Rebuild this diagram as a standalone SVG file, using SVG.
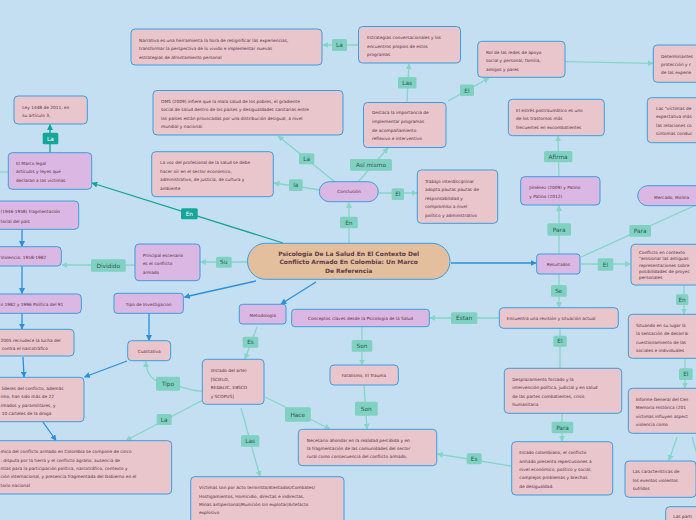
<svg xmlns="http://www.w3.org/2000/svg" width="696" height="520" viewBox="0 0 696 520">
<style>
.pk{fill:#e8c6cc;stroke:#3d9de0;stroke-width:1}
.pu{fill:#dbb8e3;stroke:#3d9de0;stroke-width:1}
.ct{fill:#e3bf9d;stroke:#3d9de0;stroke-width:1}
.t{font-family:"DejaVu Sans",sans-serif;font-size:4.3px;fill:#5c2b3f}
.tc{font-family:"DejaVu Sans",sans-serif;font-size:4.3px;fill:#5c2b3f;text-anchor:middle}
.tt{font-family:"DejaVu Sans",sans-serif;font-size:6px;font-weight:bold;fill:#5e3b47;text-anchor:middle}
.lb{fill:#80d1c1}
.ld{fill:#14a699}
.lt{font-family:"DejaVu Sans",sans-serif;font-size:5.8px;fill:#2e5a56;text-anchor:middle}
.ltw{font-family:"DejaVu Sans",sans-serif;font-size:5.8px;fill:#ffffff;text-anchor:middle}
.cl{stroke:#84d6c6;stroke-width:1.3;fill:none}
.cb{stroke:#2b8fdb;stroke-width:1.3;fill:none}
.cd{stroke:#14a396;stroke-width:1.3;fill:none}
</style>
<defs>
<marker id="al" viewBox="0 0 10 10" refX="9" refY="5" markerWidth="6" markerHeight="6" markerUnits="userSpaceOnUse" orient="auto"><path d="M0,0 L10,5 L0,10 z" fill="#84d6c6"/></marker>
<marker id="ab" viewBox="0 0 10 10" refX="9" refY="5" markerWidth="6" markerHeight="6" markerUnits="userSpaceOnUse" orient="auto"><path d="M0,0 L10,5 L0,10 z" fill="#2b8fdb"/></marker>
<marker id="ad" viewBox="0 0 10 10" refX="9" refY="5" markerWidth="6" markerHeight="6" markerUnits="userSpaceOnUse" orient="auto"><path d="M0,0 L10,5 L0,10 z" fill="#14a396"/></marker>
</defs>
<rect x="0" y="0" width="696" height="520" fill="#c4dff1"/>

<g id="connectors">
<line class="cl" x1="359" y1="45" x2="323" y2="45" marker-end="url(#al)"/>
<line class="cl" x1="407" y1="102" x2="409" y2="64" marker-end="url(#al)"/>
<line class="cl" x1="448" y1="101" x2="489" y2="78" marker-end="url(#al)"/>
<line class="cl" x1="565" y1="61.7" x2="653" y2="63.3" marker-end="url(#al)"/>
<line class="cl" x1="335" y1="182" x2="278" y2="136" marker-end="url(#al)"/>
<line class="cl" x1="320" y1="190" x2="274" y2="183" marker-end="url(#al)"/>
<line class="cl" x1="358" y1="182" x2="388" y2="148" marker-end="url(#al)"/>
<line class="cl" x1="379" y1="193" x2="417" y2="193" marker-end="url(#al)"/>
<line class="cl" x1="349" y1="243" x2="349" y2="202.5" marker-end="url(#al)"/>
<line class="cl" x1="559" y1="254" x2="559" y2="205.5" marker-end="url(#al)"/>
<line class="cl" x1="559" y1="177" x2="558" y2="136" marker-end="url(#al)"/>
<line class="cl" x1="581" y1="257" x2="696" y2="205"/>
<line class="cl" x1="581" y1="264" x2="630.5" y2="264" marker-end="url(#al)"/>
<line class="cl" x1="684" y1="285" x2="684" y2="314" marker-end="url(#al)"/>
<line class="cl" x1="685" y1="358" x2="685" y2="388" marker-end="url(#al)"/>
<line class="cl" x1="677" y1="437" x2="669" y2="460.5" marker-end="url(#al)"/>
<line class="cl" x1="692" y1="437" x2="700" y2="465"/>
<line class="cl" x1="559" y1="274" x2="559" y2="307.5" marker-end="url(#al)"/>
<line class="cl" x1="560" y1="328" x2="560" y2="368"/>
<line class="cl" x1="562" y1="413" x2="562" y2="441.5" marker-end="url(#al)"/>
<line class="cl" x1="511" y1="466" x2="437.5" y2="454" marker-end="url(#al)"/>
<line class="cl" x1="499" y1="318" x2="430" y2="318" marker-end="url(#al)"/>
<line class="cl" x1="362" y1="327" x2="362" y2="365" marker-end="url(#al)"/>
<line class="cl" x1="364" y1="385" x2="367" y2="429" marker-end="url(#al)"/>
<line class="cl" x1="265" y1="397" x2="330" y2="429" marker-end="url(#al)"/>
<line class="cl" x1="257" y1="327" x2="245" y2="359" marker-end="url(#al)"/>
<line class="cl" x1="241" y1="408" x2="260" y2="476.5" marker-end="url(#al)"/>
<path class="cl" d="M203,391 C190,392 180,385 168,384 C152,383 146,373 146,361.5" marker-end="url(#al)"/>
<line class="cl" x1="203" y1="400" x2="126" y2="440.5" marker-end="url(#al)"/>
<line class="cl" x1="248" y1="262" x2="200.5" y2="262" marker-end="url(#al)"/>
<line class="cl" x1="135" y1="265" x2="62" y2="265" marker-end="url(#al)"/>
<line class="cl" x1="0" y1="172" x2="8" y2="172"/>
<line class="cd" x1="50" y1="153" x2="50" y2="124.5" marker-end="url(#ad)"/>
<line class="cd" x1="283" y1="243" x2="92" y2="183" marker-end="url(#ad)"/>
<line class="cb" x1="256" y1="281" x2="184.5" y2="297" marker-end="url(#ab)"/>
<line class="cb" x1="316" y1="282" x2="281" y2="304" marker-end="url(#ab)"/>
<line class="cb" x1="451" y1="263" x2="536" y2="263" marker-end="url(#ab)"/>
<line class="cb" x1="149" y1="313" x2="149" y2="340.5" marker-end="url(#ab)"/>
<line class="cb" x1="127" y1="361" x2="84.5" y2="377" marker-end="url(#ab)"/>
<line class="cb" x1="22" y1="229" x2="22" y2="246.5" marker-end="url(#ab)"/>
<line class="cb" x1="22" y1="266" x2="22" y2="293.5" marker-end="url(#ab)"/>
<line class="cb" x1="22" y1="313" x2="22" y2="329" marker-end="url(#ab)"/>
<line class="cb" x1="23" y1="357" x2="24" y2="377" marker-end="url(#ab)"/>
<line class="cb" x1="43" y1="422" x2="56" y2="440.5" marker-end="url(#ab)"/>
</g>

<g id="labels">
<rect class="lb" x="332" y="39" width="15" height="12" rx="1.5"/><text class="lt" x="339.5" y="47.2">La</text>
<rect class="lb" x="398" y="77" width="18.5" height="11.5" rx="1.5"/><text class="lt" x="407.2" y="85">Las</text>
<rect class="lb" x="460" y="84.5" width="14" height="11.5" rx="1.5"/><text class="lt" x="467" y="92.5">El</text>
<rect class="lb" x="299" y="153.3" width="15.3" height="11" rx="1.5"/><text class="lt" x="306.6" y="161">La</text>
<rect class="lb" x="289" y="179.3" width="13.7" height="11.7" rx="1.5"/><text class="lt" x="295.8" y="187.2">la</text>
<rect class="lb" x="350" y="159" width="42" height="11.7" rx="1.5"/><text class="lt" x="371" y="167">Así mismo</text>
<rect class="lb" x="391.7" y="188.3" width="12.3" height="11.7" rx="1.5"/><text class="lt" x="397.8" y="196.2">El</text>
<rect class="lb" x="340" y="216.7" width="17.7" height="11.6" rx="1.5"/><text class="lt" x="348.8" y="224.6">En</text>
<rect class="ld" x="181" y="208.3" width="16.7" height="11" rx="1.5"/><text class="ltw" x="189.3" y="215.9">En</text>
<rect class="ld" x="42.7" y="132.7" width="15.6" height="11.6" rx="1.5"/><text class="ltw" x="50.5" y="140.6">La</text>
<rect class="lb" x="544" y="151" width="28.3" height="11.3" rx="1.5"/><text class="lt" x="558.1" y="158.8">Afirma</text>
<rect class="lb" x="547.3" y="223.3" width="23.7" height="12.4" rx="1.5"/><text class="lt" x="559.1" y="231.6">Para</text>
<rect class="lb" x="629.3" y="225" width="21.7" height="11.7" rx="1.5"/><text class="lt" x="640.1" y="233">Para</text>
<rect class="lb" x="597.7" y="258.3" width="15.6" height="12.4" rx="1.5"/><text class="lt" x="605.5" y="266.6">El</text>
<rect class="lb" x="676" y="294.3" width="12.3" height="10.7" rx="1.5"/><text class="lt" x="682.1" y="301.8">En</text>
<rect class="lb" x="679" y="368.3" width="13.7" height="11.7" rx="1.5"/><text class="lt" x="685.8" y="376.2">El</text>
<rect class="lb" x="551" y="285" width="15.7" height="11.7" rx="1.5"/><text class="lt" x="558.8" y="292.9">Se</text>
<rect class="lb" x="553.3" y="335.7" width="13.4" height="11" rx="1.5"/><text class="lt" x="560" y="343.3">El</text>
<rect class="lb" x="551.7" y="421.7" width="21.6" height="11.6" rx="1.5"/><text class="lt" x="562.5" y="429.6">Para</text>
<rect class="lb" x="466.7" y="453.3" width="15" height="11" rx="1.5"/><text class="lt" x="474.2" y="460.9">Es</text>
<rect class="lb" x="451" y="312.3" width="26.3" height="11.7" rx="1.5"/><text class="lt" x="464.1" y="320.2">Estan</text>
<rect class="lb" x="351.7" y="340" width="20.6" height="11.7" rx="1.5"/><text class="lt" x="362" y="347.9">Son</text>
<rect class="lb" x="355" y="401.7" width="22.7" height="14" rx="1.5"/><text class="lt" x="366.3" y="410.7">Son</text>
<rect class="lb" x="285" y="407.3" width="25.7" height="14.4" rx="1.5"/><text class="lt" x="297.8" y="416.5">Hace</text>
<rect class="lb" x="242.7" y="336.7" width="15.6" height="11" rx="1.5"/><text class="lt" x="250.5" y="344.3">Es</text>
<rect class="lb" x="241" y="435" width="18.3" height="11.7" rx="1.5"/><text class="lt" x="250.1" y="442.9">Las</text>
<rect class="lb" x="156" y="376.7" width="24" height="14" rx="1.5"/><text class="lt" x="168" y="385.7">Tipo</text>
<rect class="lb" x="156.7" y="414" width="15" height="11" rx="1.5"/><text class="lt" x="164.2" y="421.6">La</text>
<rect class="lb" x="216" y="256.7" width="15.7" height="11" rx="1.5"/><text class="lt" x="223.8" y="264.3">Su</text>
<rect class="lb" x="91" y="259.3" width="34.7" height="12.4" rx="1.5"/><text class="lt" x="108.3" y="267.6">Dividido</text>
</g>

<g id="central"><rect class="ct" x="247.5" y="243.3" width="202.5" height="36" rx="18"/>
<text class="tt" x="348.7" y="256.2">Psicología De La Salud En El Contexto Del</text>
<text class="tt" x="348.7" y="264.2">Conflicto Armado En Colombia: Un Marco</text>
<text class="tt" x="348.7" y="272.5">De Referencia</text></g>

<g id="narrativa"><rect class="pk" x="131" y="29" width="191" height="36" rx="4"/>
<text class="t" x="139" y="41.5">Narrativa es una herramienta la hora de resignificar las experiencias,</text>
<text class="t" x="139" y="50.3">transformar la perspectiva de lo vivido e implementar nuevas</text>
<text class="t" x="139" y="58.8">estrategias de afrontamiento personal</text></g>

<g id="estrategias"><rect class="pk" x="358.5" y="26.5" width="102" height="36.5" rx="4"/>
<text class="t" x="367" y="39">Estrategias conversacionales y los</text>
<text class="t" x="367" y="47.5">encuentros propios de estos</text>
<text class="t" x="367" y="56">programas</text></g>

<g id="destaca"><rect class="pk" x="363.5" y="102.5" width="82.5" height="45" rx="4"/>
<text class="t" x="372" y="114.3">Destaca la importancia de</text>
<text class="t" x="372" y="123">implementar programas</text>
<text class="t" x="372" y="131.6">de acompañamiento</text>
<text class="t" x="372" y="140.3">reflexivo e interventivo</text></g>

<g id="rol"><rect class="pk" x="477.7" y="41.3" width="87.3" height="36" rx="4"/>
<text class="t" x="486" y="54">Rol de las redes de apoyo</text>
<text class="t" x="486" y="62.4">social y personal, familia,</text>
<text class="t" x="486" y="70.7">amigos y pares</text></g>

<g id="determinantes"><rect class="pk" x="653.3" y="45" width="60" height="37.3" rx="4"/>
<text class="t" x="661" y="57.5">Determinantes</text>
<text class="t" x="661" y="65.8">protección y r</text>
<text class="t" x="661" y="74.2">de las experie</text></g>

<g id="oms"><rect class="pk" x="153" y="90.5" width="190" height="44.5" rx="4"/>
<text class="t" x="161" y="102.5">OMS (2009) infiere que la mala salud de los pobres, el gradiente</text>
<text class="t" x="161" y="111.3">social de salud dentro de los países y  desigualdades sanitarias entre</text>
<text class="t" x="161" y="120">los países están provocadas por una distribución desigual, a nivel</text>
<text class="t" x="161" y="128.4">mundial y nacional.</text></g>

<g id="lavoz"><rect class="pk" x="151.7" y="151.7" width="121.6" height="45" rx="4"/>
<text class="t" x="160" y="163.8">La voz del profesional de la salud se debe</text>
<text class="t" x="160" y="172.5">hacer oír en el sector económico,</text>
<text class="t" x="160" y="180.8">administrativo, de justicia, de cultura y</text>
<text class="t" x="160" y="189.5">ambiente</text></g>

<g id="conclusion"><rect class="pu" x="319.3" y="181.7" width="59" height="20" rx="10"/>
<text class="tc" x="349" y="193.3">Conclusión</text></g>

<g id="trabajo"><rect class="pk" x="417.3" y="170" width="80.4" height="53.3" rx="4"/>
<text class="t" x="425" y="182.5">Trabajo interdisciplinar</text>
<text class="t" x="425" y="190.8">adopta pautas pautas de</text>
<text class="t" x="425" y="199.5">responsabilidad y</text>
<text class="t" x="425" y="208.2">compromiso a nivel</text>
<text class="t" x="425" y="216.8">político y administrativo</text></g>

<g id="estres"><rect class="pk" x="508.3" y="99.3" width="96" height="36.4" rx="4"/>
<text class="t" x="516" y="111.5">El estrés postraumático es uno</text>
<text class="t" x="516" y="120.2">de los trastornos más</text>
<text class="t" x="516" y="128.8">frecuentes en excombatientes</text></g>

<g id="victimasde"><rect class="pk" x="647.3" y="97.7" width="60" height="45" rx="4"/>
<text class="t" x="656" y="109.8">Las "víctimas de</text>
<text class="t" x="656" y="118.2">expectativa más</text>
<text class="t" x="656" y="126.5">las relaciones co</text>
<text class="t" x="656" y="135.2">síntomas conduc</text></g>

<g id="jimenez"><rect class="pu" x="520.7" y="176.7" width="79.3" height="28.3" rx="4"/>
<text class="t" x="529.3" y="189.2">Jiménez (2009) y Patino</text>
<text class="t" x="529.3" y="197.5">y Patino (2012)</text></g>

<g id="mercado"><rect class="pu" x="637.7" y="185.7" width="80" height="20" rx="10"/>
<text class="t" x="654" y="198.5">Mercado, Molina</text></g>

<g id="resultados"><rect class="pu" x="536.7" y="254" width="43.3" height="20" rx="3"/>
<text class="tc" x="558.4" y="265.6">Resultados</text></g>

<g id="conflicto"><rect class="pk" x="631" y="244.3" width="80" height="40.7" rx="4"/>
<text class="t" x="639" y="254.2">Conflicto en contexto</text>
<text class="t" x="639" y="260.4">"erosionar las antiguas</text>
<text class="t" x="639" y="266.7">representaciones sobre</text>
<text class="t" x="639" y="272.8">posibilidades de proyec</text>
<text class="t" x="639" y="278.8">personales</text></g>

<g id="situando"><rect class="pk" x="628.3" y="314.3" width="80" height="44" rx="4"/>
<text class="t" x="636" y="327.2">Situando en su lugar la</text>
<text class="t" x="636" y="335.2">la sensación de desarrai</text>
<text class="t" x="636" y="343.5">cuestionamiento de las</text>
<text class="t" x="636" y="351.5">sociales e individuales</text></g>

<g id="informe"><rect class="pk" x="628.3" y="388.3" width="80" height="45" rx="4"/>
<text class="t" x="635.7" y="400.8">Informe General del Cen</text>
<text class="t" x="635.7" y="409.2">Memoria Histórica (201</text>
<text class="t" x="635.7" y="417.8">víctimas influyen aspect</text>
<text class="t" x="635.7" y="425.8">violencia como</text></g>

<g id="caracteristicas"><rect class="pk" x="625" y="461" width="71" height="36.3" rx="4"/>
<text class="t" x="632.7" y="472.5">Las características de</text>
<text class="t" x="632.7" y="481.5">los eventos violentos</text>
<text class="t" x="632.7" y="489.8">sufridos</text></g>

<g id="parti"><rect class="pk" x="665.7" y="506.7" width="50" height="25" rx="4"/>
<text class="t" x="673.3" y="518.2">Las parti</text></g>

<g id="encuentra"><rect class="pk" x="499.3" y="307.7" width="119" height="20.6" rx="4"/>
<text class="t" x="506.7" y="319.8">Encuentra una revisión y situación actual</text></g>

<g id="desplazamiento"><rect class="pk" x="504.3" y="368.3" width="117.4" height="45" rx="4"/>
<text class="t" x="512.3" y="380.5">Desplazamiento forzado y la</text>
<text class="t" x="512.3" y="388.8">intervención política, judicial y en salud</text>
<text class="t" x="512.3" y="397.5">de las partes combatientes, crisis</text>
<text class="t" x="512.3" y="405.8">humanitaria</text></g>

<g id="estadocol"><rect class="pk" x="511.7" y="441.7" width="101" height="53.3" rx="4"/>
<text class="t" x="519.3" y="453.8">Estado colombiano, el conflicto</text>
<text class="t" x="519.3" y="462.5">armado presenta repercusiones a</text>
<text class="t" x="519.3" y="470.8">nivel económico, político y social,</text>
<text class="t" x="519.3" y="479.2">complejos problemas y brechas</text>
<text class="t" x="519.3" y="487.5">de desigualdad.</text></g>

<g id="conceptos"><rect class="pu" x="291.7" y="309.3" width="137.6" height="17.4" rx="3"/>
<text class="tc" x="360.5" y="320.2">Conceptos claves desde la Psicología de la Salud</text></g>

<g id="fatalismo"><rect class="pk" x="330" y="365" width="68.3" height="20" rx="4"/>
<text class="tc" x="364" y="377">Fatalismo, El Trauma</text></g>

<g id="necesario"><rect class="pk" x="298.3" y="429.3" width="138.4" height="36.4" rx="4"/>
<text class="t" x="306.7" y="441.5">Necesario ahondar en la realidad percibida y en</text>
<text class="t" x="306.7" y="449.8">la fragmentación de las comunidades del sector</text>
<text class="t" x="306.7" y="458.2">rural como consecuencia del conflicto armado.</text></g>

<g id="metodologia"><rect class="pu" x="239.3" y="304.3" width="46.7" height="19.7" rx="3"/>
<text class="tc" x="262.7" y="316.5">Metodologia</text></g>

<g id="estadoarte"><rect class="pk" x="202.3" y="359.3" width="61.7" height="45" rx="4"/>
<text class="t" x="210.7" y="371.8">(Estado del arte)</text>
<text class="t" x="210.7" y="380.5">[SCIELO,</text>
<text class="t" x="210.7" y="388.8">REDALYC, EBSCO</text>
<text class="t" x="210.7" y="397.5">y SCOPUS]</text></g>

<g id="victimas"><rect class="pk" x="190.7" y="476.7" width="153.3" height="50" rx="4"/>
<text class="t" x="199" y="488.8">Víctimas son por Acto terrorista/Atentados/Combates/</text>
<text class="t" x="199" y="497.5">Hostigamientos, Homicidio, directas e indirectas,</text>
<text class="t" x="199" y="505.8">Minas antipersonal/Munición sin explotar/Artefacto</text>
<text class="t" x="199" y="514.2">explosivo</text></g>

<g id="tipoinv"><rect class="pu" x="114" y="293.3" width="69.3" height="20" rx="3"/>
<text class="tc" x="148.7" y="305.5">Tipo de Investigacion</text></g>

<g id="cualitativa"><rect class="pk" x="127.7" y="340.7" width="43" height="20" rx="4"/>
<text class="tc" x="149.2" y="352.5">Cualitativa</text></g>

<g id="principal"><rect class="pu" x="135" y="244" width="65" height="36.7" rx="4"/>
<text class="t" x="142.7" y="256.5">Principal escenario</text>
<text class="t" x="142.7" y="264.8">es el conflicto</text>
<text class="t" x="142.7" y="273.7">armado</text></g>

<g id="ley"><rect class="pk" x="14" y="96" width="73.3" height="28" rx="4"/>
<text class="t" x="22.3" y="108.8">Ley 1448 de 2011, en</text>
<text class="t" x="22.3" y="116.5">su artículo 3,</text></g>

<g id="marco"><rect class="pu" x="8.3" y="152.7" width="83.4" height="36.6" rx="4"/>
<text class="t" x="16" y="164.8">El Marco legal</text>
<text class="t" x="16" y="173.2">Artículos y leyes que</text>
<text class="t" x="16" y="181.5">declaran a las víctimas</text></g>

<g id="fragmentacion"><rect class="pu" x="-10" y="201" width="88.7" height="28.3" rx="4"/>
<text class="t" x="0.5" y="213.2">(1946-1958) fragmentación</text>
<text class="t" x="0.5" y="222.5">torial del país</text></g>

<g id="violencia"><rect class="pu" x="-10" y="246.7" width="71.3" height="19.3" rx="4"/>
<text class="t" x="0.5" y="258.5">Violencia: 1958-1982</text></g>

<g id="politica91"><rect class="pu" x="-10" y="294" width="91.3" height="19.3" rx="4"/>
<text class="t" x="0.5" y="305.5">n  1982 y 1996 Política del 91</text></g>

<g id="recrudece"><rect class="pk" x="-10" y="329.3" width="84" height="26.7" rx="4"/>
<text class="t" x="0.5" y="341.5">2005 recrudece la lucha del</text>
<text class="t" x="1.7" y="350.2">contra el narcotráfico</text></g>

<g id="lideres"><rect class="pk" x="-10" y="377.3" width="94" height="44.4" rx="4"/>
<text class="t" x="1.7" y="389.8">líderes del conflicto, además</text>
<text class="t" x="0.5" y="397.8">rmo, han sido más de 22</text>
<text class="t" x="0.5" y="406.5">rmados y paramilitares, y</text>
<text class="t" x="1.7" y="414.8">10 carteles de la droga</text></g>

<g id="dinamica"><rect class="pk" x="-10" y="440.7" width="181.7" height="53.3" rx="4"/>
<text class="t" x="0.5" y="453.2">mica del conflicto armado en Colombia se compone de cinco</text>
<text class="t" x="0.5" y="461.8">: disputa por la tierra y el conflicto agrario, ausencia de</text>
<text class="t" x="0.5" y="470.2">ntías para la participación política, narcotráfico, contexto y</text>
<text class="t" x="0.5" y="478.2">ción internacional, y presencia fragmentada del Gobierno en el</text>
<text class="t" x="0.5" y="486.8">torio nacional</text></g>
</svg>
